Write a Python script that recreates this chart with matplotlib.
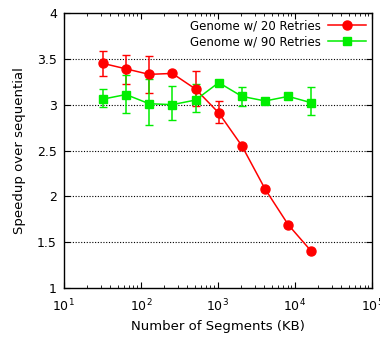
import numpy as np
import matplotlib.pyplot as plt
from matplotlib.ticker import LogLocator

plt.rcParams['font.family'] = ['DejaVu Sans']

segments = [32, 64, 128, 256, 512, 1024, 2048, 4096, 8192, 16384]

r20 = [3.45, 3.39, 3.33, 3.34, 3.17, 2.91, 2.55, 2.08, 1.69, 1.40]
r20_lo = [3.31, 3.22, 3.13, 3.31, 2.98, 2.80, 2.53, 2.06, 1.67, 1.38]
r20_hi = [3.59, 3.54, 3.53, 3.37, 3.37, 3.04, 2.57, 2.10, 1.71, 1.42]

r90 = [3.06, 3.11, 3.01, 3.00, 3.05, 3.24, 3.09, 3.04, 3.09, 3.02]
r90_lo = [2.97, 2.91, 2.78, 2.83, 2.92, 3.22, 2.98, 3.02, 3.07, 2.89]
r90_hi = [3.17, 3.32, 3.28, 3.20, 3.22, 3.26, 3.19, 3.06, 3.11, 3.19]

fig = plt.figure(figsize=(3.8, 3.39), dpi=100)
ax = fig.add_axes([0.168, 0.150, 0.811, 0.812])

err20 = [np.array(r20) - np.array(r20_lo), np.array(r20_hi) - np.array(r20)]
err90 = [np.array(r90) - np.array(r90_lo), np.array(r90_hi) - np.array(r90)]

# error bars first, then the lines+markers (these carry the legend labels)
ax.errorbar(segments, r20, yerr=err20, fmt='none', ecolor='#ff0000',
            capsize=2.8, elinewidth=1.1, zorder=2)
ax.errorbar(segments, r90, yerr=err90, fmt='none', ecolor='#00ee00',
            capsize=2.8, elinewidth=1.1, zorder=2)
ax.plot(segments, r20, color='#ff0000', marker='o', markersize=6.5,
        linewidth=1.1, label='Genome w/ 20 Retries', zorder=3)
ax.plot(segments, r90, color='#00ee00', marker='s', markersize=6.3,
        linewidth=1.1, label='Genome w/ 90 Retries', zorder=3)

ax.set_xscale('log')
ax.set_xlim(10, 1e5)
ax.set_ylim(1, 4)
ax.set_yticks([1, 1.5, 2, 2.5, 3, 3.5, 4])
ax.set_yticklabels(['1', '1.5', '2', '2.5', '3', '3.5', '4'])
ax.xaxis.set_major_locator(LogLocator(base=10, numticks=10))
ax.xaxis.set_minor_locator(LogLocator(base=10, subs=np.arange(2, 10), numticks=10))

for y in [1.5, 2, 2.5, 3, 3.5]:
    ax.axhline(y, color='black', linestyle=(0, (1, 1.5)), linewidth=0.8, zorder=1)

ax.tick_params(which='both', direction='in', top=True, right=True, labelsize=9)
ax.tick_params(axis='y', pad=5)
ax.tick_params(axis='x', pad=7)
ax.tick_params(which='major', length=4)
ax.tick_params(which='minor', length=2)
for s in ax.spines.values():
    s.set_linewidth(1.0)

ax.set_xlabel('Number of Segments (KB)', fontsize=9.5, labelpad=4)
ax.set_ylabel('Speedup over sequential', fontsize=9.5, labelpad=8)

ax.legend(loc='upper right', frameon=False, markerfirst=False, fontsize=8.5,
          handlelength=3.2, borderaxespad=0.15, labelspacing=0.25, handletextpad=0.6)

fig.savefig('out.png', dpi=100)
